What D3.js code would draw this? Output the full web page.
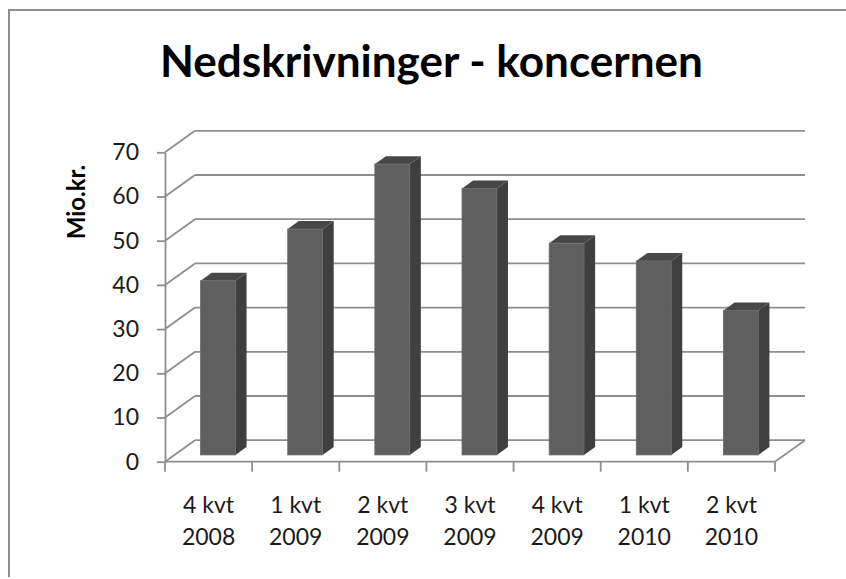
<!DOCTYPE html>
<html>
<head>
<meta charset="utf-8">
<script src="https://cdn.jsdelivr.net/npm/d3@7"></script>
<style>
  body { margin: 0; background: #fff; }
  svg { display: block; }
</style>
</head>
<body>
<div class="chart"></div>
<script>
// data
var categories = ["4 kvt 2008", "1 kvt 2009", "2 kvt 2009", "3 kvt 2009", "4 kvt 2009", "1 kvt 2010", "2 kvt 2010"];
var values = [39.4, 51.1, 65.8, 60.3, 47.9, 43.9, 32.7];
var yTicks = [0, 10, 20, 30, 40, 50, 60, 70];
var titleText = "Nedskrivninger - koncernen";
var yLabel = "Mio.kr.";

var width = 846, height = 579;
var font = "Lato, 'Open Sans', sans-serif";
var gridColor = "#8e8e8e";

var svg = d3.select(".chart").append("svg")
  .attr("width", width)
  .attr("height", height);

// outer frame (only left and top edges show)
svg.append("path")
  .attr("d", "M9,577V10H846")
  .attr("fill", "none")
  .attr("stroke", gridColor)
  .attr("stroke-width", 2);

// front plane scales
var x = d3.scaleBand().domain(categories).range([165, 775]).paddingInner(0).paddingOuter(0);
var y = d3.scaleLinear().domain([0, 70]).range([461.7, 152.3]);
// depth: 0 = front, 1 = back wall
var depthX = d3.scaleLinear().domain([0, 1]).range([0, 30]);
var depthY = d3.scaleLinear().domain([0, 1]).range([0, -21.5]);

var g = svg.append("g");

// back wall gridlines
g.selectAll("line.grid")
  .data(yTicks)
  .enter()
  .append("line")
  .attr("class", "grid")
  .attr("x1", x.range()[0] + depthX(1))
  .attr("x2", x.range()[1] + depthX(1))
  .attr("y1", function (d) { return y(d) + depthY(1); })
  .attr("y2", function (d) { return y(d) + depthY(1); })
  .attr("stroke", gridColor)
  .attr("stroke-width", 1.8);

// side wall diagonals
g.selectAll("line.diag")
  .data(yTicks)
  .enter()
  .append("line")
  .attr("class", "diag")
  .attr("x1", x.range()[0])
  .attr("x2", x.range()[0] + depthX(1))
  .attr("y1", function (d) { return y(d); })
  .attr("y2", function (d) { return y(d) + depthY(1); })
  .attr("stroke", gridColor)
  .attr("stroke-width", 1.8);

// floor: front edge and right edge
g.append("path")
  .attr("d", "M" + x.range()[0] + "," + y(0) + "H" + x.range()[1] +
    "l" + depthX(1) + "," + depthY(1))
  .attr("fill", "none")
  .attr("stroke", gridColor)
  .attr("stroke-width", 1.8);

// x ticks at band boundaries
var bounds = d3.range(categories.length + 1).map(function (i) {
  return x.range()[0] + i * x.step();
});
g.selectAll("line.xtick")
  .data(bounds)
  .enter()
  .append("line")
  .attr("class", "xtick")
  .attr("x1", function (d) { return d; })
  .attr("x2", function (d) { return d; })
  .attr("y1", y(0))
  .attr("y2", y(0) + 10)
  .attr("stroke", gridColor)
  .attr("stroke-width", 1.8);

// y axis
var yAxis = g.append("g")
  .attr("transform", "translate(" + x.range()[0] + ",0)")
  .call(d3.axisLeft(y).tickValues(yTicks).tickSize(8).tickSizeOuter(0).tickPadding(18));
yAxis.select(".domain").attr("stroke", gridColor).attr("stroke-width", 1.8);
yAxis.selectAll(".tick line").attr("stroke", gridColor).attr("stroke-width", 1.8);
yAxis.selectAll(".tick text")
  .style("font-family", font)
  .style("font-size", "23px")
  .attr("fill", "#1a1a1a");

// 3D bars
var barW = x.bandwidth() * 0.4;
var d0 = 0.315, d1 = 0.685;
var bars = g.selectAll("g.bar")
  .data(values)
  .enter()
  .append("g")
  .attr("class", "bar");

function bx(d, i) {
  return x(categories[i]) + x.bandwidth() / 2 - barW / 2 + depthX(d0);
}
var ddx = depthX(d1) - depthX(d0), ddy = depthY(d1) - depthY(d0);

// side face
bars.append("path")
  .attr("d", function (d, i) {
    var x1 = bx(d, i) + barW, yt = y(d) + depthY(d0), yb = y(0) + depthY(d0);
    return "M" + x1 + "," + yb + "V" + yt + "l" + ddx + "," + ddy +
      "V" + (yb + ddy) + "Z";
  })
  .attr("fill", "#3f3f3f");

// top face
bars.append("path")
  .attr("d", function (d, i) {
    var x0 = bx(d, i), yt = y(d) + depthY(d0);
    return "M" + x0 + "," + yt + "h" + barW + "l" + ddx + "," + ddy +
      "h" + (-barW) + "Z";
  })
  .attr("fill", "#474747");

// front face
bars.append("rect")
  .attr("x", bx)
  .attr("y", function (d) { return y(d) + depthY(d0); })
  .attr("width", barW)
  .attr("height", function (d) { return y(0) - y(d); })
  .attr("fill", "#5f5f5f")
  .attr("stroke", "#6a6a6a")
  .attr("stroke-width", 0.8);

// category labels on two lines
var xl = g.selectAll("text.xlab")
  .data(categories)
  .enter()
  .append("text")
  .attr("class", "xlab")
  .attr("text-anchor", "middle")
  .style("font-family", font)
  .style("font-size", "23px")
  .attr("fill", "#1a1a1a");
xl.append("tspan")
  .attr("x", function (d) { return x(d) + x.bandwidth() / 2; })
  .attr("y", 513)
  .text(function (d) { return d.split(" ").slice(0, 2).join(" "); });
xl.append("tspan")
  .attr("x", function (d) { return x(d) + x.bandwidth() / 2; })
  .attr("y", 545)
  .text(function (d) { return d.split(" ")[2]; });

// y axis title
svg.append("text")
  .attr("transform", "translate(85,202) rotate(-90)")
  .attr("text-anchor", "middle")
  .style("font-family", font)
  .style("font-weight", "bold")
  .style("font-size", "24px")
  .attr("fill", "#000")
  .text(yLabel);

// chart title, sized to the span it has in the picture
var title = svg.append("text")
  .attr("x", 431.5)
  .attr("y", 77)
  .attr("text-anchor", "middle")
  .style("font-family", font)
  .style("font-weight", "bold")
  .style("font-size", "44px")
  .attr("fill", "#000")
  .text(titleText);
var tw = title.node().getComputedTextLength();
title.style("font-size", (44 * 543 / tw) + "px");
</script>
</body>
</html>
